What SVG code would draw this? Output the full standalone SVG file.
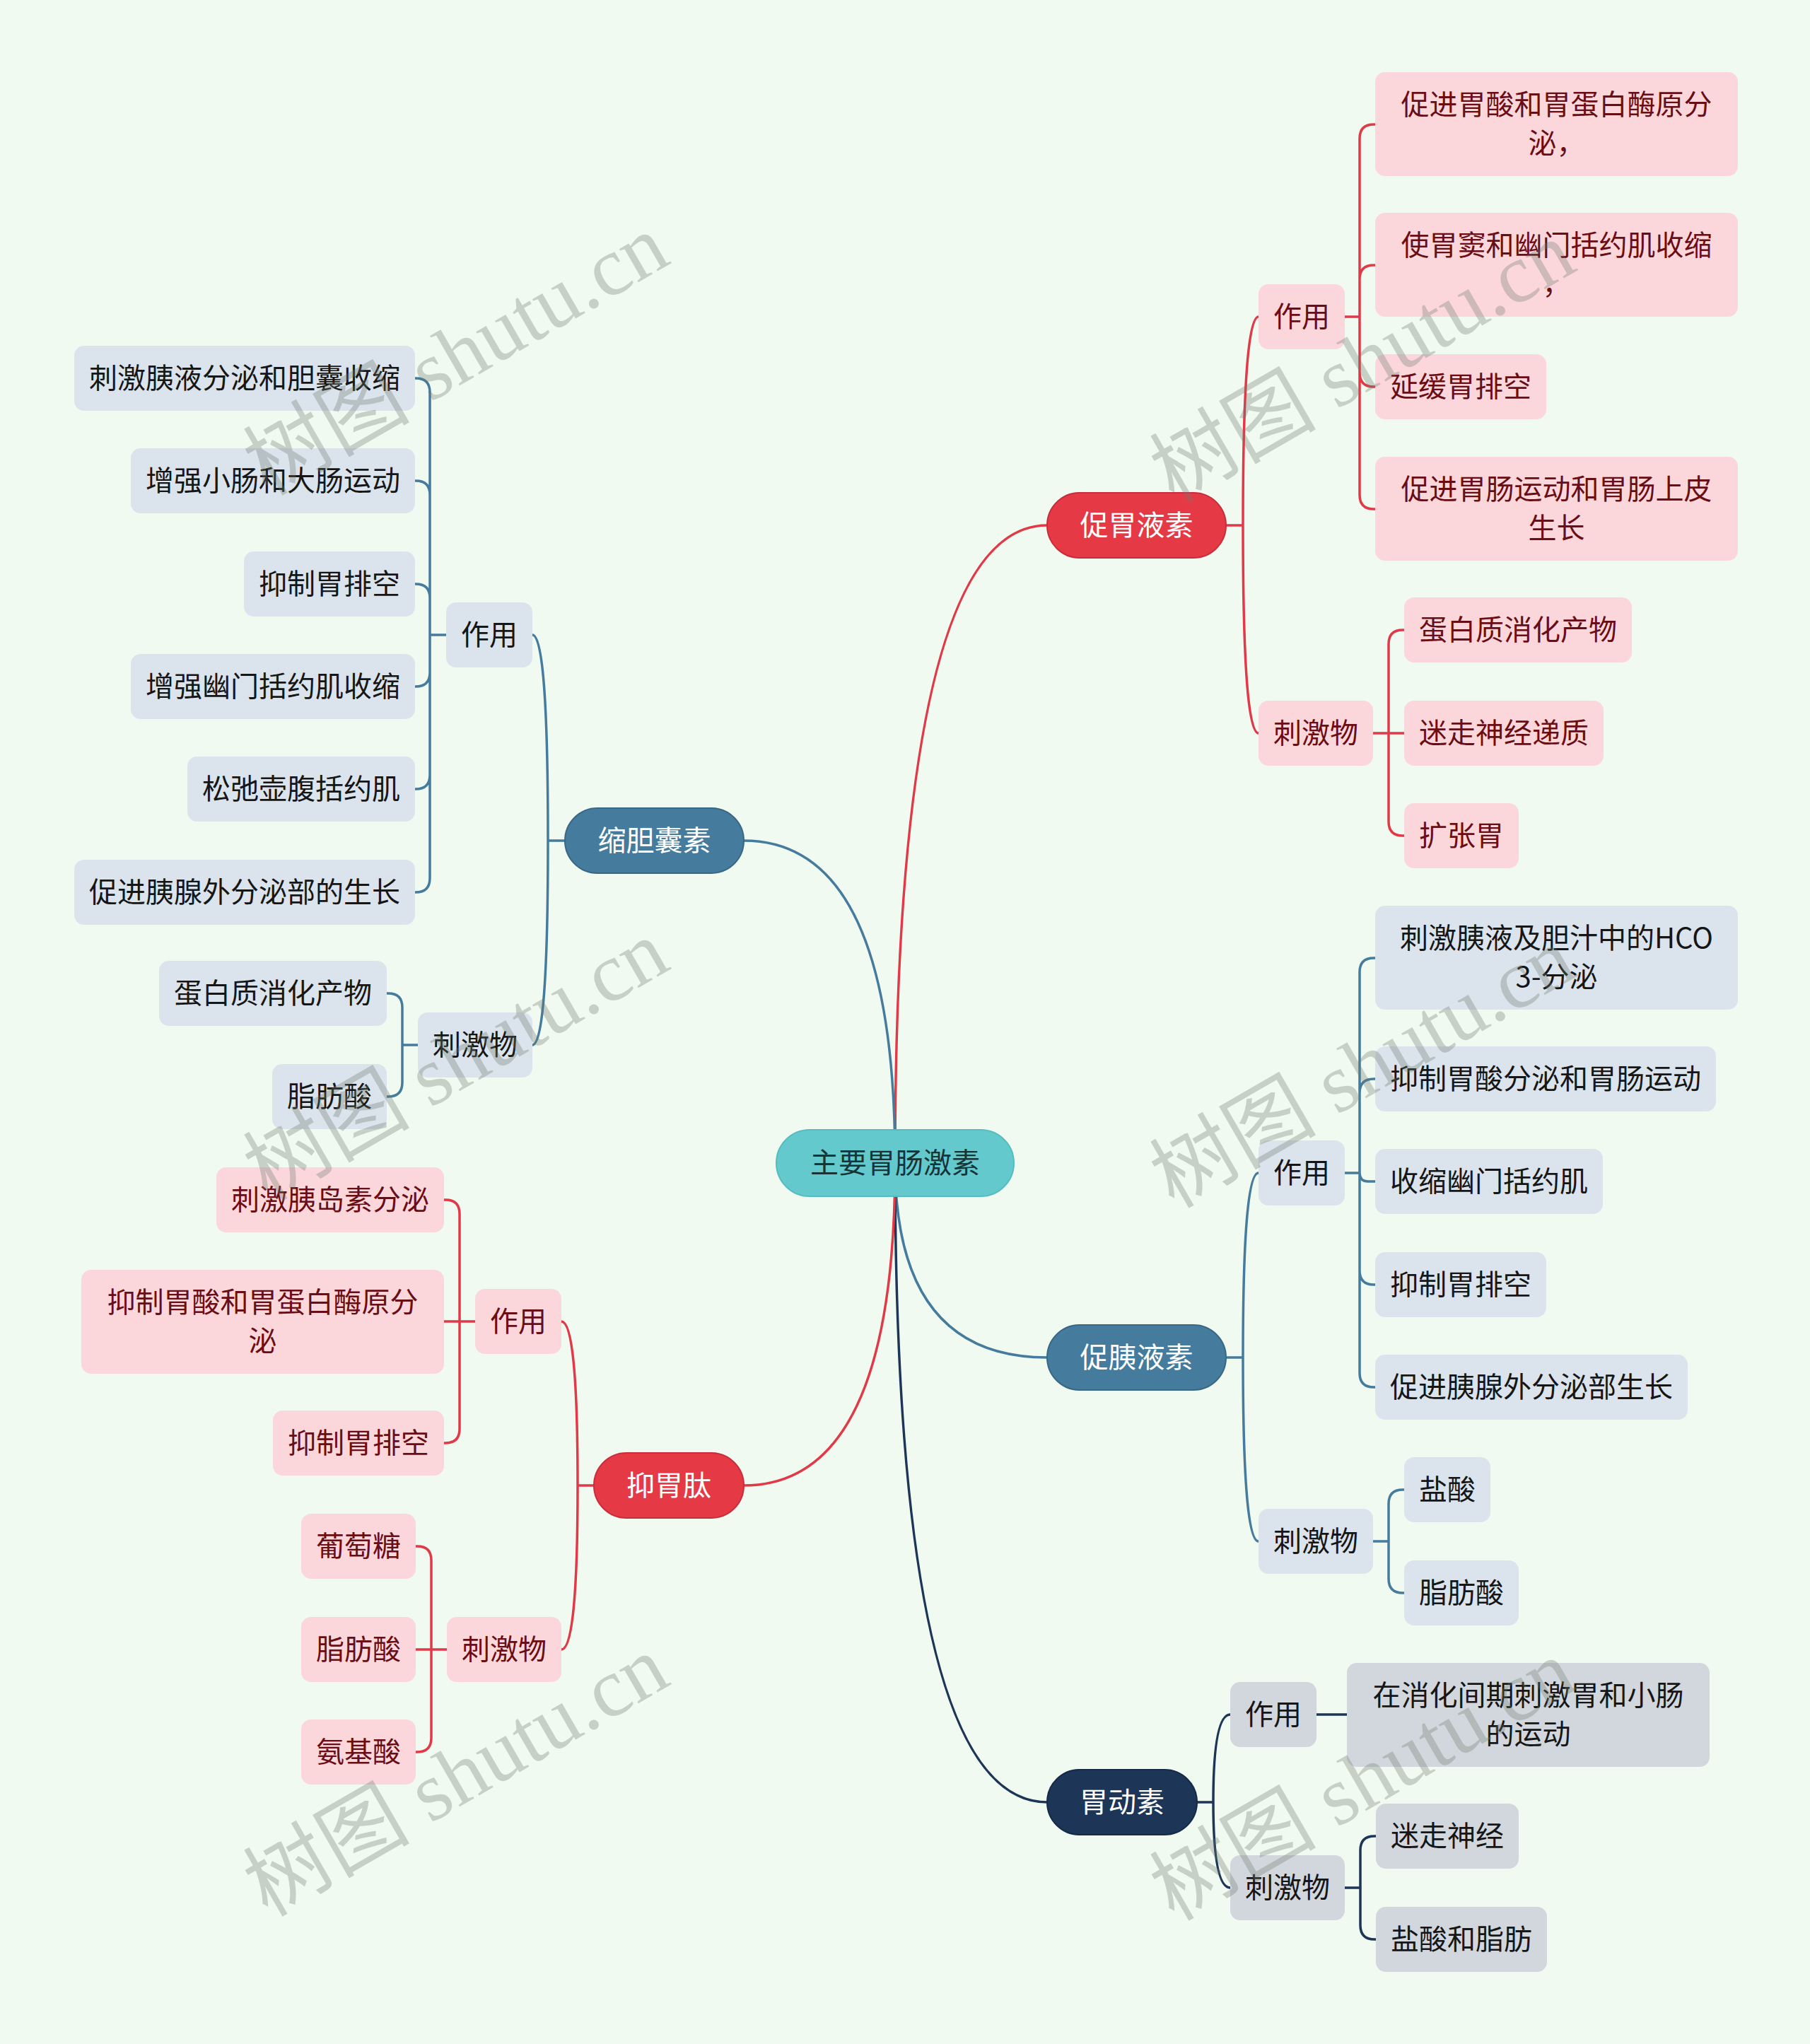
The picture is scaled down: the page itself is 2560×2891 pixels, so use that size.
<svg xmlns="http://www.w3.org/2000/svg" width="2560" height="2891" viewBox="0 0 2560 2891">
<style>
text{font-family:"Noto Sans CJK SC","Noto Sans",sans-serif;font-size:40px;text-anchor:middle}
.ctr rect{fill:#63c9cd;stroke:#55bcc0;stroke-width:2}
.ctr text{fill:#173436}
.mr rect{fill:#e63946;stroke:#c92d3b;stroke-width:2}
.mb rect{fill:#457b9d;stroke:#386886;stroke-width:2}
.mn rect{fill:#1d3557;stroke:#142a47;stroke-width:2}
.mr text,.mb text,.mn text{fill:#ffffff}
.pk rect{fill:#fbd7db}
.pk text{fill:#6a0d14}
.lb rect{fill:#dbe4ec}
.lb text{fill:#161616}
.gy rect{fill:#d2d7de}
.gy text{fill:#161616}
.c path{fill:none;stroke-width:3.5;stroke-linecap:round}
.cr{stroke:#e03a48}
.cb{stroke:#457b9d}
.cn{stroke:#1d3557}
.wm text{font-family:"Liberation Serif","Noto Sans CJK SC",serif;font-size:118px;fill:#6e7a6e;fill-opacity:0.32;text-anchor:middle}
</style>
<rect width="2560" height="2891" fill="#f1faf0"/>
<g id="connectors" class="c">
<path class="cr" d="M1266,1645 Q1266,743 1481,743"/>
<path class="cb" d="M1266,1645 Q1266,1920 1481,1920"/>
<path class="cn" d="M1266,1645 Q1266,2549 1481,2549"/>
<path class="cb" d="M1266,1645 Q1266,1189 1052,1189"/>
<path class="cr" d="M1266,1645 Q1266,2101 1052,2101"/>
<path class="cr" d="M1734,743 H1758 Q1758,448 1780,448 M1758,743 Q1758,1037 1780,1037"/>
<path class="cb" d="M1734,1920 H1758 Q1758,1659 1780,1659 M1758,1920 Q1758,2180 1780,2180"/>
<path class="cn" d="M1693,2549 H1716 Q1716,2425 1740,2425 M1716,2549 Q1716,2670 1740,2670"/>
<path class="cb" d="M799,1189 H775 Q775,898 753,898 M775,1189 Q775,1478 753,1478"/>
<path class="cr" d="M840,2101 H817 Q817,1869 794,1869 M817,2101 Q817,2333 794,2333"/>
<path class="cr" d="M1902,448 H1923 M1923,448 V196 Q1923,176 1943,176 H1945 M1923,448 V395 Q1923,375 1943,375 H1945 M1923,448 V527 Q1923,547 1943,547 H1945 M1923,448 V700 Q1923,720 1943,720 H1945"/>
<path class="cr" d="M1942,1037 H1986 M1964,1037 V911 Q1964,891 1984,891 H1986 M1964,1037 V1162 Q1964,1182 1984,1182 H1986"/>
<path class="cb" d="M1902,1659 H1923 M1923,1659 V1375 Q1923,1355 1943,1355 H1945 M1923,1659 V1546 Q1923,1526 1943,1526 H1945 M1923,1659 Q1923,1671 1935,1671 H1945 M1923,1659 V1797 Q1923,1817 1943,1817 H1945 M1923,1659 V1942 Q1923,1962 1943,1962 H1945"/>
<path class="cb" d="M1942,2180 H1964 M1964,2180 V2127 Q1964,2107 1984,2107 H1986 M1964,2180 V2233 Q1964,2253 1984,2253 H1986"/>
<path class="cn" d="M1862,2425 H1905"/>
<path class="cn" d="M1902,2670 H1924 M1924,2670 V2617 Q1924,2597 1944,2597 H1946 M1924,2670 V2723 Q1924,2743 1944,2743 H1946"/>
<path class="cb" d="M631,898 H608 M608,898 V555 Q608,535 588,535 H587 M608,898 V700 Q608,680 588,680 H587 M608,898 V846 Q608,826 588,826 H587 M608,898 V951 Q608,971 588,971 H587 M608,898 V1096 Q608,1116 588,1116 H587 M608,898 V1242 Q608,1262 588,1262 H587"/>
<path class="cb" d="M591,1478 H569 M569,1478 V1425 Q569,1405 549,1405 H547 M569,1478 V1531 Q569,1551 549,1551 H547"/>
<path class="cr" d="M672,1869 H628 M650,1869 V1717 Q650,1697 630,1697 H628 M650,1869 V2021 Q650,2041 630,2041 H628"/>
<path class="cr" d="M632,2333 H588 M610,2333 V2207 Q610,2187 590,2187 H588 M610,2333 V2458 Q610,2478 590,2478 H588"/>
</g>
<g id="center" class="ctr"><rect x="1098" y="1598" width="336" height="94" rx="47"/><text x="1266" y="1659">主要胃肠激素</text></g>
<g id="n-cuweiyesu" class="mr"><rect x="1481" y="697" width="253" height="92" rx="46"/><text x="1607.5" y="757">促胃液素</text></g>
<g id="n-cuyiyesu" class="mb"><rect x="1481" y="1874" width="253" height="92" rx="46"/><text x="1607.5" y="1934">促胰液素</text></g>
<g id="n-weidongsu" class="mn"><rect x="1481" y="2503" width="212" height="92" rx="46"/><text x="1587" y="2563">胃动素</text></g>
<g id="n-suodannangsu" class="mb"><rect x="799" y="1143" width="253" height="92" rx="46"/><text x="925.5" y="1203">缩胆囊素</text></g>
<g id="n-yiweitai" class="mr"><rect x="840" y="2055" width="212" height="92" rx="46"/><text x="946" y="2115">抑胃肽</text></g>

<g id="a1" class="pk"><rect x="1780" y="402" width="122" height="92" rx="14"/><text x="1841" y="462">作用</text></g>
<g id="a1-1" class="pk"><rect x="1945" y="102" width="513" height="147" rx="14"/><text x="2201.5" y="162">促进胃酸和胃蛋白酶原分</text><text x="2201.5" y="217">泌，</text></g>
<g id="a1-2" class="pk"><rect x="1945" y="301" width="513" height="147" rx="14"/><text x="2201.5" y="361">使胃窦和幽门括约肌收缩</text><text x="2201.5" y="416">，</text></g>
<g id="a1-3" class="pk"><rect x="1945" y="501" width="242" height="92" rx="14"/><text x="2066" y="561">延缓胃排空</text></g>
<g id="a1-4" class="pk"><rect x="1945" y="646" width="513" height="147" rx="14"/><text x="2201.5" y="706">促进胃肠运动和胃肠上皮</text><text x="2201.5" y="761">生长</text></g>
<g id="a2" class="pk"><rect x="1780" y="991" width="162" height="92" rx="14"/><text x="1861" y="1051">刺激物</text></g>
<g id="a2-1" class="pk"><rect x="1986" y="845" width="322" height="92" rx="14"/><text x="2147" y="905">蛋白质消化产物</text></g>
<g id="a2-2" class="pk"><rect x="1986" y="991" width="282" height="92" rx="14"/><text x="2127" y="1051">迷走神经递质</text></g>
<g id="a2-3" class="pk"><rect x="1986" y="1136" width="162" height="92" rx="14"/><text x="2067" y="1196">扩张胃</text></g>

<g id="b1" class="lb"><rect x="1780" y="1613" width="122" height="92" rx="14"/><text x="1841" y="1673">作用</text></g>
<g id="b1-1" class="lb"><rect x="1945" y="1281" width="513" height="147" rx="14"/><text x="2201.5" y="1341">刺激胰液及胆汁中的HCO</text><text x="2201.5" y="1396">3-分泌</text></g>
<g id="b1-2" class="lb"><rect x="1945" y="1480" width="482" height="92" rx="14"/><text x="2186" y="1540">抑制胃酸分泌和胃肠运动</text></g>
<g id="b1-3" class="lb"><rect x="1945" y="1625" width="322" height="92" rx="14"/><text x="2106" y="1685">收缩幽门括约肌</text></g>
<g id="b1-4" class="lb"><rect x="1945" y="1771" width="242" height="92" rx="14"/><text x="2066" y="1831">抑制胃排空</text></g>
<g id="b1-5" class="lb"><rect x="1945" y="1916" width="442" height="92" rx="14"/><text x="2166" y="1976">促进胰腺外分泌部生长</text></g>
<g id="b2" class="lb"><rect x="1780" y="2134" width="162" height="92" rx="14"/><text x="1861" y="2194">刺激物</text></g>
<g id="b2-1" class="lb"><rect x="1986" y="2061" width="122" height="92" rx="14"/><text x="2047" y="2121">盐酸</text></g>
<g id="b2-2" class="lb"><rect x="1986" y="2207" width="162" height="92" rx="14"/><text x="2067" y="2267">脂肪酸</text></g>

<g id="c1" class="gy"><rect x="1740" y="2379" width="122" height="92" rx="14"/><text x="1801" y="2439">作用</text></g>
<g id="c1-1" class="gy"><rect x="1905" y="2352" width="513" height="147" rx="14"/><text x="2161.5" y="2412">在消化间期刺激胃和小肠</text><text x="2161.5" y="2467">的运动</text></g>
<g id="c2" class="gy"><rect x="1740" y="2624" width="162" height="92" rx="14"/><text x="1821" y="2684">刺激物</text></g>
<g id="c2-1" class="gy"><rect x="1946" y="2551" width="202" height="92" rx="14"/><text x="2047" y="2611">迷走神经</text></g>
<g id="c2-2" class="gy"><rect x="1946" y="2697" width="242" height="92" rx="14"/><text x="2067" y="2757">盐酸和脂肪</text></g>

<g id="d1" class="lb"><rect x="631" y="852" width="122" height="92" rx="14"/><text x="692" y="912">作用</text></g>
<g id="d1-1" class="lb"><rect x="105" y="489" width="482" height="92" rx="14"/><text x="346" y="549">刺激胰液分泌和胆囊收缩</text></g>
<g id="d1-2" class="lb"><rect x="185" y="634" width="402" height="92" rx="14"/><text x="386" y="694">增强小肠和大肠运动</text></g>
<g id="d1-3" class="lb"><rect x="345" y="780" width="242" height="92" rx="14"/><text x="466" y="840">抑制胃排空</text></g>
<g id="d1-4" class="lb"><rect x="185" y="925" width="402" height="92" rx="14"/><text x="386" y="985">增强幽门括约肌收缩</text></g>
<g id="d1-5" class="lb"><rect x="265" y="1070" width="322" height="92" rx="14"/><text x="426" y="1130">松弛壶腹括约肌</text></g>
<g id="d1-6" class="lb"><rect x="105" y="1216" width="482" height="92" rx="14"/><text x="346" y="1276">促进胰腺外分泌部的生长</text></g>
<g id="d2" class="lb"><rect x="591" y="1432" width="162" height="92" rx="14"/><text x="672" y="1492">刺激物</text></g>
<g id="d2-1" class="lb"><rect x="225" y="1359" width="322" height="92" rx="14"/><text x="386" y="1419">蛋白质消化产物</text></g>
<g id="d2-2" class="lb"><rect x="385" y="1505" width="162" height="92" rx="14"/><text x="466" y="1565">脂肪酸</text></g>

<g id="e1" class="pk"><rect x="672" y="1823" width="122" height="92" rx="14"/><text x="733" y="1883">作用</text></g>
<g id="e1-1" class="pk"><rect x="306" y="1651" width="322" height="92" rx="14"/><text x="467" y="1711">刺激胰岛素分泌</text></g>
<g id="e1-2" class="pk"><rect x="115" y="1796" width="513" height="147" rx="14"/><text x="371.5" y="1856">抑制胃酸和胃蛋白酶原分</text><text x="371.5" y="1911">泌</text></g>
<g id="e1-3" class="pk"><rect x="386" y="1995" width="242" height="92" rx="14"/><text x="507" y="2055">抑制胃排空</text></g>
<g id="e2" class="pk"><rect x="632" y="2287" width="162" height="92" rx="14"/><text x="713" y="2347">刺激物</text></g>
<g id="e2-1" class="pk"><rect x="426" y="2141" width="162" height="92" rx="14"/><text x="507" y="2201">葡萄糖</text></g>
<g id="e2-2" class="pk"><rect x="426" y="2287" width="162" height="92" rx="14"/><text x="507" y="2347">脂肪酸</text></g>
<g id="e2-3" class="pk"><rect x="426" y="2432" width="162" height="92" rx="14"/><text x="507" y="2492">氨基酸</text></g>

<g id="watermarks" class="wm">
<text transform="translate(645,502) rotate(-30)" y="40">树图 shutu.cn</text>
<text transform="translate(645,1500) rotate(-30)" y="40">树图 shutu.cn</text>
<text transform="translate(645,2512) rotate(-30)" y="40">树图 shutu.cn</text>
<text transform="translate(1927,512) rotate(-30)" y="40">树图 shutu.cn</text>
<text transform="translate(1927,1510) rotate(-30)" y="40">树图 shutu.cn</text>
<text transform="translate(1927,2518) rotate(-30)" y="40">树图 shutu.cn</text>
</g>
</svg>
